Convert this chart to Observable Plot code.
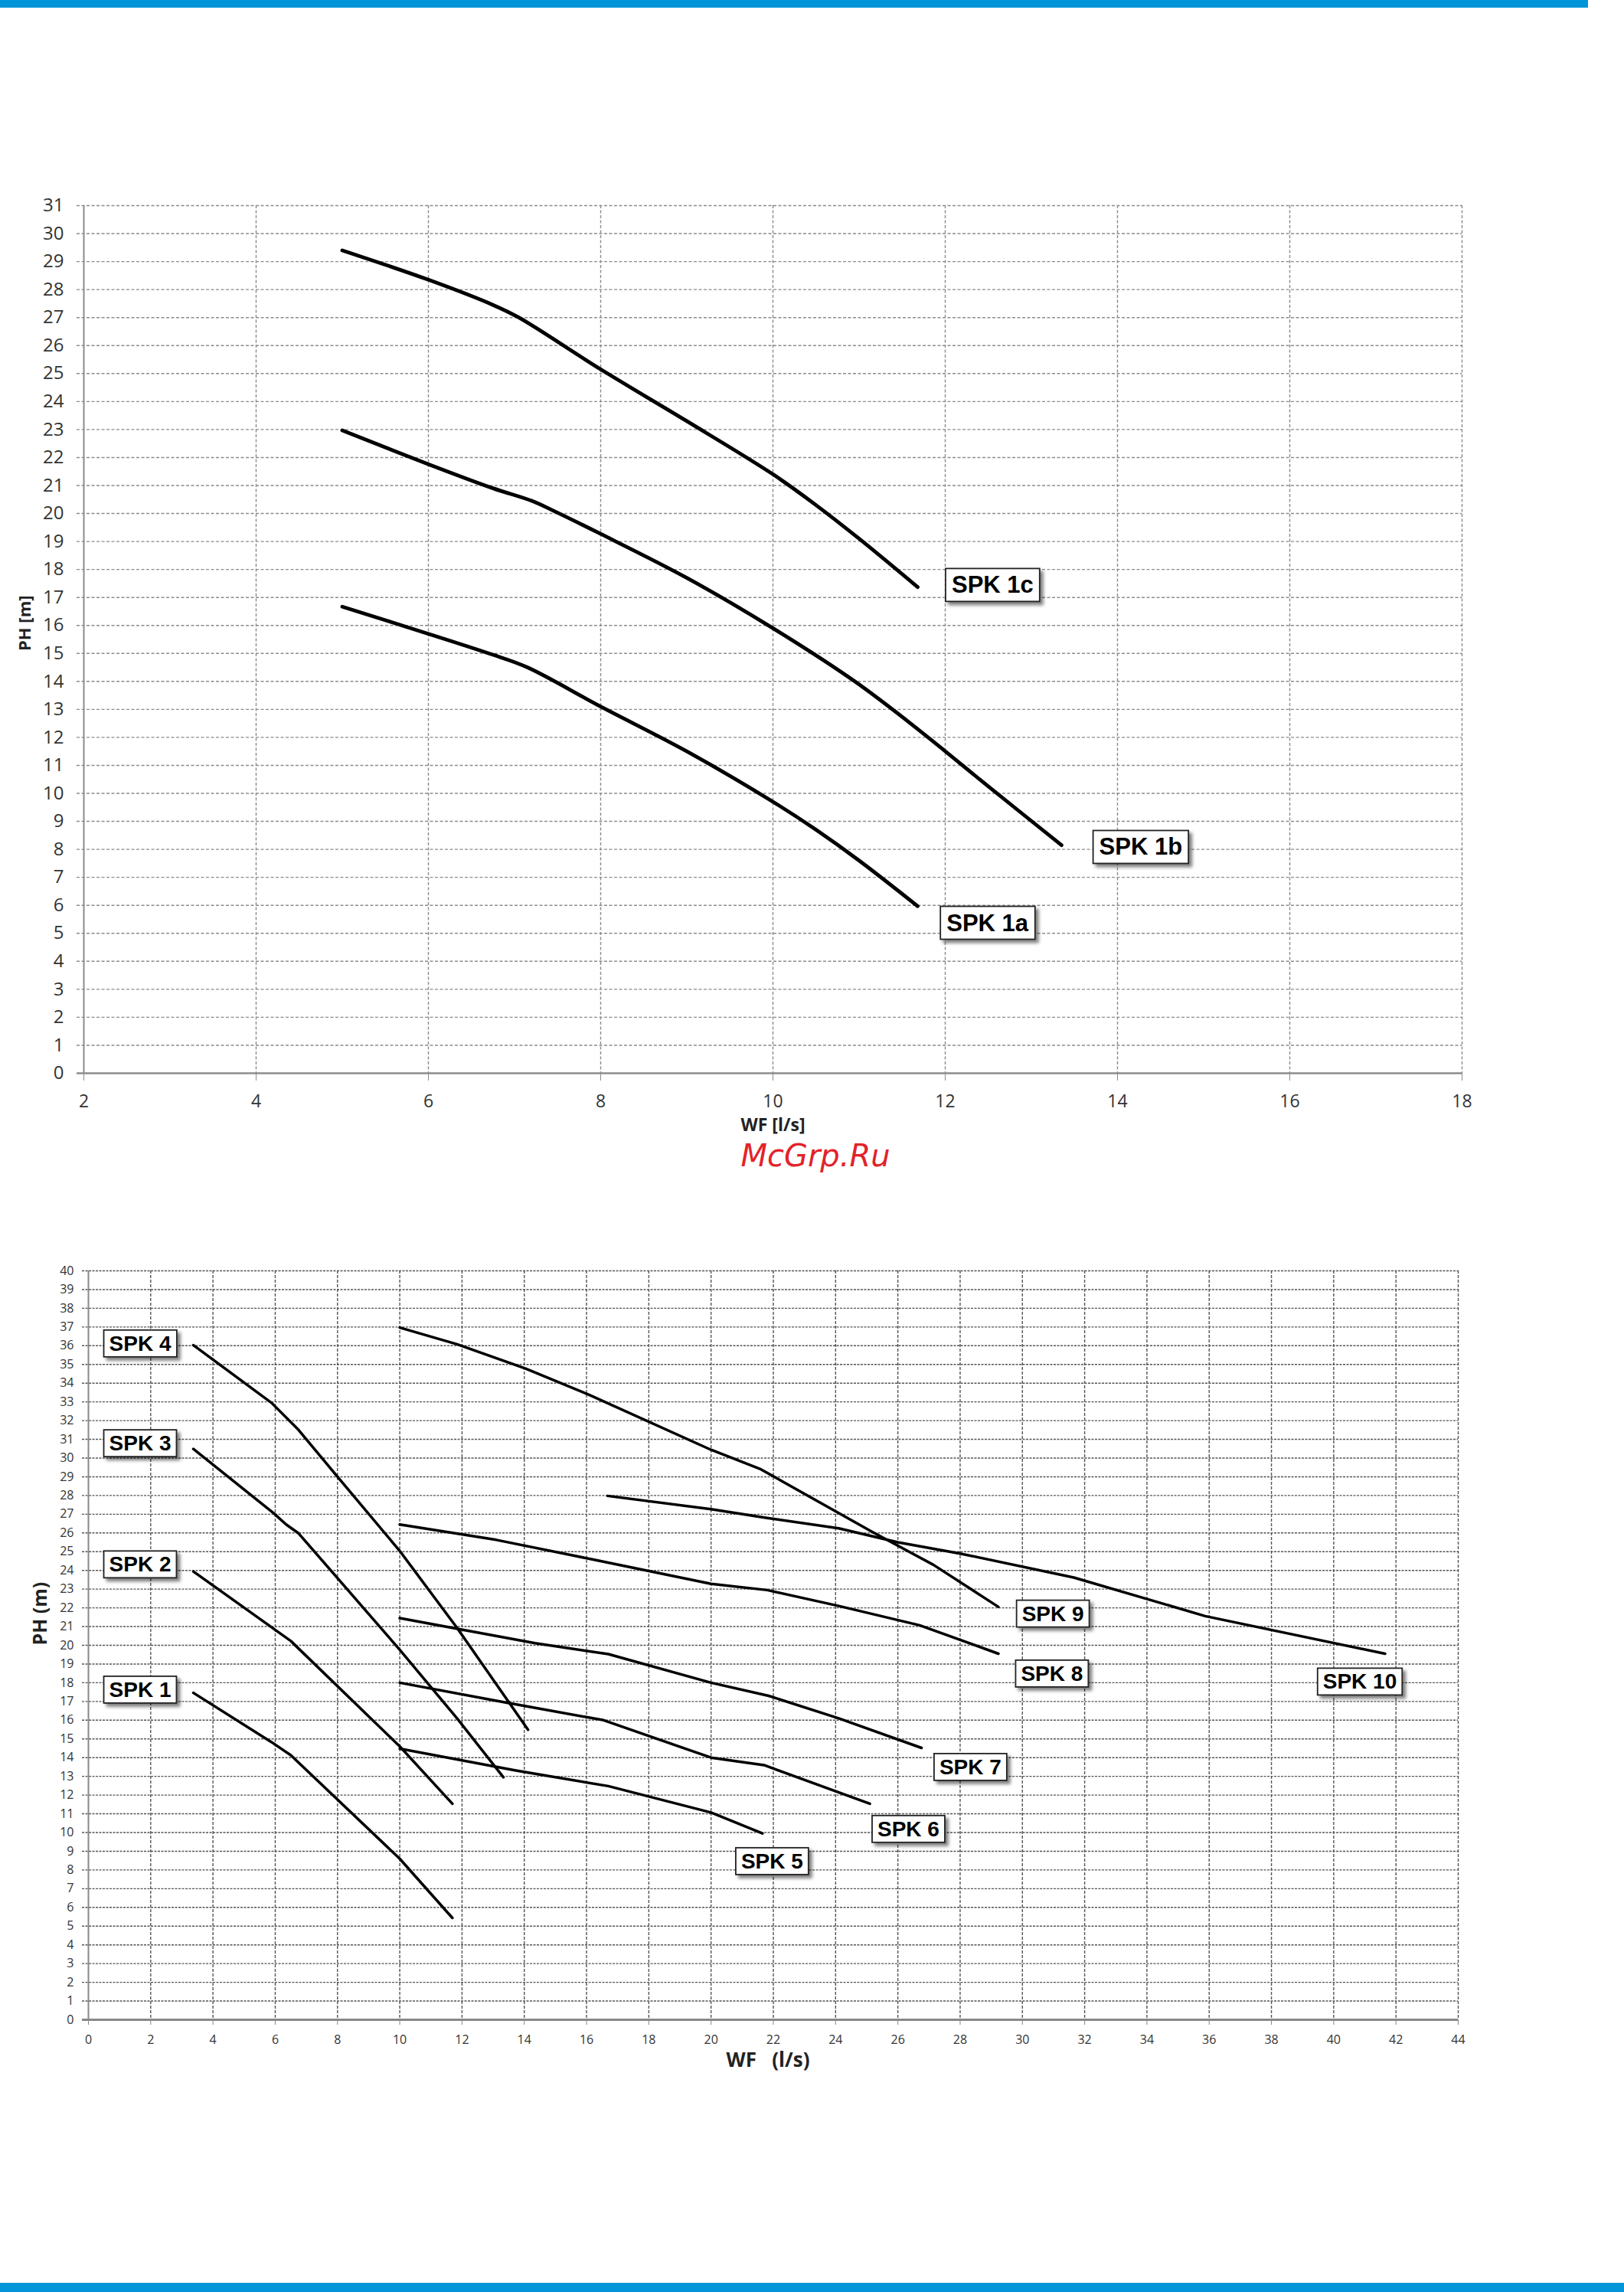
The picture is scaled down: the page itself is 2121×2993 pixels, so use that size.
<!DOCTYPE html>
<html>
<head>
<meta charset="utf-8">
<script src="https://cdn.jsdelivr.net/npm/d3@7"></script>
<script src="https://cdn.jsdelivr.net/npm/@observablehq/plot@0.6"></script>
<style>
html, body { margin: 0; padding: 0; background: #fff; }
#page { position: relative; width: 2121px; height: 2993px; overflow: hidden; background: #fff; }
.bar { position: absolute; background: #0095d9; }
#topChart { position: absolute; left: 0; top: 220px; }
#bottomChart { position: absolute; left: 0; top: 1560px; }
#wm { position: absolute; left: 915px; width: 300px; top: 1489px; text-align: center; line-height: 1;
      font-family: "DejaVu Sans", sans-serif; font-style: italic; font-size: 40px; color: #e2232a; }
</style>
</head>
<body>
<div id="page">
  <div class="bar" style="left:0;top:0;width:2074px;height:10px;"></div>
  <div id="topChart"></div>
  <div id="wm">McGrp.Ru</div>
  <div id="bottomChart"></div>
  <div class="bar" style="left:0;top:2981px;width:2121px;height:12px;"></div>
</div>
<script>
// ---------------- DATA: top chart (WF [l/s] vs PH [m]) ----------------
const topXTicks = [2, 4, 6, 8, 10, 12, 14, 16, 18];
const topYTicks = d3.range(0, 32);
const spk1a = [[5.0,16.67],[6.0,15.7],[6.75,14.95],[7.15,14.5],[8.0,13.1],[9.0,11.5],[10.0,9.7],[10.5,8.7],[11.0,7.6],[11.68,5.97]];
const spk1b = [[5.0,22.97],[6.0,21.76],[6.75,20.9],[7.2,20.45],[7.45,20.1],[8.0,19.27],[9.0,17.7],[10.0,15.9],[10.95,14.0],[11.7,12.25],[12.5,10.25],[13.35,8.15]];
const spk1c = [[5.0,29.4],[6.0,28.35],[6.75,27.45],[7.05,27.0],[8.0,25.15],[9.0,23.3],[10.0,21.4],[10.5,20.3],[11.0,19.1],[11.68,17.37]];
const topNames = ["SPK 1a", "SPK 1b", "SPK 1c"];
const topLabelX = [12.49, 14.27, 12.55];
const topLabelY = [5.36, 8.07, 17.43];

// ---------------- DATA: bottom chart (WF (l/s) vs PH (m)) ----------------
const botXTicks = d3.range(0, 46, 2);
const botYTicks = d3.range(0, 41);
const spk1  = [[3.37,17.46],[5.88,14.83],[6.5,14.13],[10.0,8.6],[11.69,5.44]];
const spk2  = [[3.37,23.94],[6.5,20.23],[10.0,14.6],[11.69,11.54]];
const spk3  = [[3.37,30.49],[5.96,27.04],[6.35,26.45],[6.75,25.98],[10.0,19.76],[11.84,16.1],[13.33,12.95]];
const spk4  = [[3.37,36.03],[5.88,32.95],[6.75,31.5],[8.0,29.0],[10.0,25.04],[11.84,20.93],[14.12,15.49]];
const spk5  = [[10.0,14.48],[13.73,13.31],[16.7,12.48],[20.0,11.07],[21.65,9.95]];
const spk6  = [[10.0,18.0],[13.41,16.94],[16.55,16.0],[20.0,14.0],[21.7,13.6],[25.1,11.54]];
const spk7  = [[10.0,21.45],[14.35,20.11],[16.7,19.53],[20.0,18.0],[21.85,17.3],[24.1,16.1],[26.76,14.52]];
const spk8  = [[10.0,26.45],[13.1,25.63],[16.24,24.57],[20.0,23.28],[21.8,22.95],[24.1,22.1],[26.7,21.07],[29.23,19.55]];
const spk9  = [[10.0,36.97],[11.84,36.08],[14.04,34.78],[16.08,33.38],[20.0,30.44],[21.6,29.4],[25.17,26.06],[27.14,24.3],[29.23,22.05]];
const spk10 = [[16.67,27.98],[20.0,27.27],[21.8,26.8],[24.1,26.25],[26.0,25.5],[28.0,24.9],[31.65,23.62],[35.87,21.56],[41.65,19.55]];
const botNames  = ["SPK 1", "SPK 2", "SPK 3", "SPK 4", "SPK 5", "SPK 6", "SPK 7", "SPK 8", "SPK 9", "SPK 10"];
const botLabelX = [1.66, 1.66, 1.66, 1.66, 21.96, 26.34, 28.33, 30.95, 30.98, 40.84];
const botLabelY = [17.61, 24.3, 30.77, 36.1, 8.45, 10.17, 13.48, 18.47, 21.67, 18.04];

// ---------------- build tables ----------------
const toRows = (name, pts) => pts.map(([x, y]) => ({series: name, x, y}));
const topData = [
  ...toRows("SPK 1a", spk1a), ...toRows("SPK 1b", spk1b), ...toRows("SPK 1c", spk1c)
];
const botSeries = [spk1, spk2, spk3, spk4, spk5, spk6, spk7, spk8, spk9, spk10];
const botData = botSeries.flatMap((pts, i) => toRows(botNames[i], pts));
const topLabels = topNames.map((name, i) => ({name, x: topLabelX[i], y: topLabelY[i]}));
const botLabels = botNames.map((name, i) => ({name, x: botLabelX[i], y: botLabelY[i]}));

const gridTop = "#8c8c8c";
const tickFont = "'Open Sans', 'Noto Sans', sans-serif";
const labelFont = "'Liberation Sans', Arial, sans-serif";

// ---------------- top chart ----------------
const topPlot = Plot.plot({
  width: 1960, height: 1281,
  marginLeft: 109, marginRight: 51, marginTop: 48, marginBottom: 100,
  x: {domain: [2, 18]},
  y: {domain: [0, 31]},
  style: {fontFamily: tickFont, fontSize: "23px", color: "#333", background: "transparent", overflow: "visible"},
  marks: [
    Plot.ruleY(topYTicks.filter(d => d > 0), {stroke: gridTop, strokeWidth: 1.4, strokeDasharray: "4,2.5", insetLeft: -9}),
    Plot.ruleX(topXTicks.filter(d => d > 2), {stroke: gridTop, strokeWidth: 1.4, strokeDasharray: "4,2.5"}),
    Plot.ruleX([2], {stroke: gridTop, strokeWidth: 2}),
    Plot.ruleY([0], {stroke: gridTop, strokeWidth: 2.5, insetLeft: -9}),
    Plot.axisX({ticks: topXTicks, tickSize: 10, tickPadding: 18, stroke: gridTop, fill: "#333", fontSize: 23, label: null}),
    Plot.axisY({ticks: topYTicks, tickSize: 0, tickPadding: 26, fill: "#333", fontSize: 24, label: null}),
    Plot.line(topData, {x: "x", y: "y", z: "series", stroke: "#000", strokeWidth: 4.8, curve: "catmull-rom"}),
    Plot.text(topLabels, {x: "x", y: "y", text: "name", fontFamily: labelFont, fontWeight: "bold", fontSize: 31, fill: "#000"}),
    Plot.text(["PH [m]"], {frameAnchor: "left", dx: -77, dy: 15, rotate: -90, fontWeight: "bold", fontSize: 22, fill: "#222"}),
    Plot.text(["WF [l/s]"], {frameAnchor: "bottom", dy: 75, fontWeight: "bold", fontSize: 23, fill: "#222"})
  ]
});
document.getElementById("topChart").appendChild(topPlot);

// ---------------- bottom chart ----------------
const gridBot = "#555";
const botPlot = Plot.plot({
  width: 1960, height: 1167,
  marginLeft: 115, marginRight: 56, marginTop: 99, marginBottom: 90,
  x: {domain: [0, 44]},
  y: {domain: [0, 40]},
  style: {fontFamily: tickFont, fontSize: "16px", color: "#333", background: "transparent", overflow: "visible"},
  marks: [
    Plot.ruleY(botYTicks.filter(d => d > 0), {stroke: gridBot, strokeWidth: 1.4, strokeDasharray: "3,1.5", insetLeft: -8}),
    Plot.ruleX(botXTicks.filter(d => d > 0), {stroke: gridBot, strokeWidth: 1.4, strokeDasharray: "4,2"}),
    Plot.ruleX([0], {stroke: "#888", strokeWidth: 2}),
    Plot.ruleY([0], {stroke: "#888", strokeWidth: 3, insetLeft: -8}),
    Plot.axisX({ticks: botXTicks, tickSize: 7, tickPadding: 13, stroke: "#888", fill: "#333", fontSize: 16, label: null}),
    Plot.axisY({ticks: botYTicks, tickSize: 0, tickPadding: 19, fill: "#333", fontSize: 16, label: null}),
    Plot.line(botData, {x: "x", y: "y", z: "series", stroke: "#000", strokeWidth: 3.5, curve: "linear"}),
    Plot.text(botLabels, {x: "x", y: "y", text: "name", fontFamily: labelFont, fontWeight: "bold", fontSize: 28, fill: "#000"}),
    Plot.text(["PH (m)"], {frameAnchor: "left", dx: -63, rotate: -90, fontWeight: "bold", fontSize: 25, fill: "#222"}),
    Plot.text(["WF\u00a0\u00a0\u00a0(l/s)"], {frameAnchor: "bottom", dx: -7, dy: 61, fontWeight: "bold", fontSize: 26, fill: "#222"})
  ]
});
document.getElementById("bottomChart").appendChild(botPlot);

// ---------------- framed label boxes with drop shadow ----------------
const NS = "http://www.w3.org/2000/svg";
function boxLabels(svg, id, padX, padY) {
  const defs = document.createElementNS(NS, "defs");
  const filter = document.createElementNS(NS, "filter");
  filter.setAttribute("id", id);
  filter.setAttribute("x", "-20%"); filter.setAttribute("y", "-30%");
  filter.setAttribute("width", "150%"); filter.setAttribute("height", "180%");
  const ds = document.createElementNS(NS, "feDropShadow");
  ds.setAttribute("dx", "4"); ds.setAttribute("dy", "4");
  ds.setAttribute("stdDeviation", "2.2");
  ds.setAttribute("flood-color", "#000"); ds.setAttribute("flood-opacity", "0.5");
  filter.appendChild(ds); defs.appendChild(filter);
  svg.insertBefore(defs, svg.firstChild);
  const texts = Array.from(svg.querySelectorAll("text")).filter(t => t.textContent.startsWith("SPK"));
  texts.forEach(t => {
    const bb = t.getBBox();
    const r = document.createElementNS(NS, "rect");
    r.setAttribute("x", bb.x - padX);
    r.setAttribute("y", bb.y - padY);
    r.setAttribute("width", bb.width + 2 * padX);
    r.setAttribute("height", bb.height + 2 * padY);
    r.setAttribute("fill", "#fff");
    r.setAttribute("stroke", "#222");
    r.setAttribute("stroke-width", "1.8");
    r.setAttribute("filter", `url(#${id})`);
    const tr = t.getAttribute("transform");
    if (tr) r.setAttribute("transform", tr);
    t.parentNode.insertBefore(r, t);
  });
}
const svgOf = el => el.tagName.toLowerCase() === "svg" ? el : el.querySelector("svg");
boxLabels(svgOf(topPlot), "shTop", 8, 4);
boxLabels(svgOf(botPlot), "shBot", 7, 2);
</script>
</body>
</html>
